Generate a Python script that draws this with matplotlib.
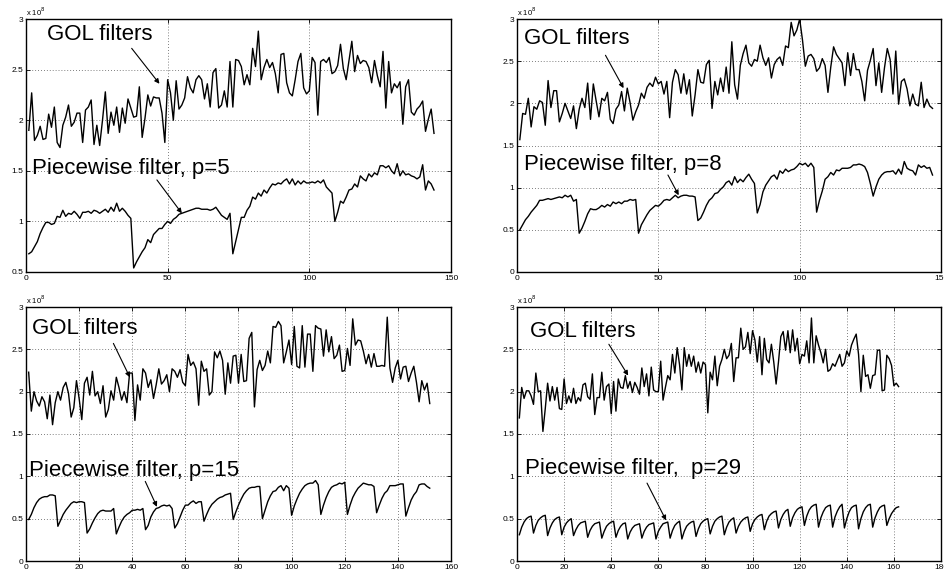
import numpy as np
import matplotlib
matplotlib.use("Agg")
import matplotlib.pyplot as plt

plt.rcParams['font.family'] = ['Liberation Sans', 'DejaVu Sans']

# ---------------- data (units of 1e8) ----------------
gol_1 = [1.90, 2.27, 1.80, 1.85, 1.94, 1.81, 1.82, 2.06, 1.93, 2.13,
         1.78, 1.73, 1.95, 2.03, 2.15, 1.94, 1.98, 2.07, 2.07, 1.78,
         2.10, 2.13, 2.20, 1.76, 1.95, 1.75, 2.00, 2.28, 1.87, 2.08,
         1.95, 2.13, 1.88, 2.12, 1.97, 2.21, 2.12, 2.03, 2.04, 2.33,
         1.83, 2.02, 2.25, 2.14, 2.23, 2.22, 2.22, 2.07, 1.78, 2.40,
         2.27, 2.00, 2.39, 2.11, 2.15, 2.22, 2.43, 2.32, 2.27, 2.40,
         2.44, 2.40, 2.21, 2.36, 2.13, 2.47, 2.51, 2.12, 2.15, 2.29,
         2.13, 2.58, 2.13, 2.60, 2.59, 2.53, 2.35, 2.45, 2.35, 2.71,
         2.53, 2.88, 2.40, 2.52, 2.60, 2.52, 2.57, 2.46, 2.27, 2.65,
         2.66, 2.37, 2.27, 2.24, 2.40, 2.58, 2.66, 2.32, 2.26, 2.29,
         2.62, 2.57, 2.05, 2.58, 2.60, 2.57, 2.62, 2.46, 2.48, 2.54,
         2.75, 2.51, 2.40, 2.59, 2.78, 2.48, 2.64, 2.56, 2.59, 2.58,
         2.52, 2.37, 2.59, 2.44, 2.33, 2.68, 2.12, 2.58, 2.27, 2.36,
         2.32, 2.38, 1.96, 2.33, 2.40, 2.08, 2.05, 2.11, 2.14, 2.19,
         1.89, 2.01, 2.11, 1.87]
pw_1 = [0.68, 0.70, 0.75, 0.80, 0.88, 0.94, 0.99, 0.99, 0.97, 0.98,
        1.05, 1.04, 1.11, 1.05, 1.08, 1.07, 1.10, 1.07, 1.03, 1.09,
        1.09, 1.10, 1.08, 1.11, 1.10, 1.08, 1.10, 1.12, 1.09, 1.14,
        1.10, 1.18, 1.10, 1.13, 1.10, 1.06, 1.03, 0.54, 0.60, 0.65,
        0.70, 0.74, 0.82, 0.79, 0.87, 0.90, 0.93, 0.93, 0.97, 1.00,
        0.98, 1.02, 1.04, 1.07, 1.08, 1.09, 1.10, 1.11, 1.12, 1.13,
        1.13, 1.12, 1.12, 1.12, 1.11, 1.12, 1.14, 1.10, 1.06, 1.04,
        1.02, 1.08, 0.68, 0.80, 0.92, 1.04, 1.04, 1.11, 1.15, 1.24,
        1.22, 1.28, 1.25, 1.31, 1.28, 1.33, 1.37, 1.36, 1.38, 1.37,
        1.40, 1.42, 1.37, 1.42, 1.36, 1.40, 1.37, 1.40, 1.38, 1.38,
        1.39, 1.38, 1.40, 1.38, 1.41, 1.34, 1.31, 1.28, 1.00, 1.09,
        1.20, 1.18, 1.24, 1.31, 1.32, 1.37, 1.34, 1.45, 1.42, 1.40,
        1.47, 1.44, 1.48, 1.46, 1.55, 1.55, 1.53, 1.55, 1.50, 1.47,
        1.57, 1.45, 1.50, 1.46, 1.47, 1.45, 1.44, 1.42, 1.44, 1.56,
        1.31, 1.40, 1.37, 1.31]

gol_2 = [1.57, 1.88, 1.87, 2.06, 1.72, 1.96, 1.93, 2.03, 2.01, 1.74,
         2.27, 1.95, 2.15, 2.15, 1.78, 1.88, 2.00, 1.91, 1.82, 1.97,
         1.70, 1.93, 2.06, 1.95, 2.24, 1.81, 2.23, 2.03, 1.84, 2.06,
         2.03, 2.13, 1.81, 1.76, 1.93, 1.98, 2.14, 1.91, 2.18, 2.01,
         1.80, 1.90, 1.98, 2.12, 2.06, 2.19, 2.24, 2.20, 2.31, 2.23,
         2.26, 2.11, 2.26, 1.83, 2.25, 2.40, 2.34, 2.12, 2.35, 2.11,
         2.28, 1.85, 2.10, 2.40, 2.25, 2.24, 2.46, 2.51, 1.94, 2.26,
         2.10, 2.30, 2.14, 2.43, 2.12, 2.73, 2.22, 2.05, 2.45, 2.59,
         2.69, 2.48, 2.44, 2.52, 2.50, 2.69, 2.54, 2.45, 2.54, 2.30,
         2.46, 2.52, 2.55, 2.45, 2.68, 2.66, 2.96, 2.80, 2.87, 3.00,
         2.75, 2.44, 2.56, 2.58, 2.53, 2.38, 2.42, 2.53, 2.45, 2.13,
         2.43, 2.67, 2.58, 2.53, 2.48, 2.21, 2.60, 2.33, 2.59, 2.40,
         2.40, 2.26, 2.03, 2.39, 2.51, 2.65, 2.21, 2.48, 2.13, 2.42,
         2.65, 2.52, 2.11, 2.62, 1.99, 2.26, 2.29, 2.17, 1.97, 2.11,
         1.99, 1.97, 2.25, 1.95, 2.05, 1.97, 1.94]
pw_2 = [0.50, 0.56, 0.62, 0.66, 0.71, 0.75, 0.79, 0.85, 0.85, 0.86,
        0.87, 0.86, 0.87, 0.88, 0.89, 0.88, 0.91, 0.89, 0.91, 0.84,
        0.86, 0.46, 0.52, 0.60, 0.69, 0.75, 0.74, 0.74, 0.76, 0.79,
        0.77, 0.80, 0.78, 0.83, 0.81, 0.83, 0.81, 0.84, 0.84, 0.86,
        0.85, 0.86, 0.46, 0.56, 0.62, 0.68, 0.73, 0.76, 0.79, 0.78,
        0.81, 0.85, 0.86, 0.85, 0.88, 0.91, 0.88, 0.90, 0.91, 0.91,
        0.90, 0.90, 0.89, 0.61, 0.64, 0.71, 0.79, 0.85, 0.88, 0.93,
        0.94, 0.98, 1.01, 1.06, 1.08, 1.03, 1.13, 1.06, 1.10, 1.07,
        1.12, 1.16, 1.10, 1.05, 0.70, 0.80, 0.95, 1.03, 1.08, 1.13,
        1.15, 1.10, 1.20, 1.17, 1.22, 1.19, 1.21, 1.22, 1.25, 1.29,
        1.27, 1.29, 1.25, 1.29, 1.24, 0.71, 0.85, 0.96, 1.10, 1.13,
        1.18, 1.15, 1.21, 1.20, 1.23, 1.23, 1.23, 1.24, 1.27, 1.27,
        1.28, 1.27, 1.25, 1.18, 1.05, 0.90, 1.01, 1.10, 1.15, 1.18,
        1.19, 1.19, 1.20, 1.16, 1.22, 1.16, 1.31, 1.23, 1.21, 1.20,
        1.15, 1.27, 1.24, 1.26, 1.23, 1.24, 1.15]

gol_3 = [2.23, 1.77, 2.00, 1.89, 1.83, 1.94, 1.88, 1.68, 1.96, 1.61,
         1.87, 2.00, 1.90, 2.05, 2.11, 1.98, 1.70, 1.81, 2.13, 1.92,
         1.67, 2.10, 2.17, 1.96, 2.24, 1.95, 2.00, 1.86, 2.07, 1.70,
         1.79, 2.01, 1.90, 2.17, 2.05, 1.90, 2.00, 1.87, 2.22, 2.22,
         1.66, 2.08, 1.90, 2.27, 2.22, 2.05, 2.14, 1.92, 2.08, 2.27,
         2.09, 2.13, 2.20, 2.00, 2.27, 2.24, 2.17, 2.26, 2.11, 2.07,
         2.44, 2.31, 2.35, 2.27, 1.84, 2.36, 2.24, 2.27, 1.96, 2.00,
         2.47, 2.40, 2.48, 2.37, 1.97, 2.34, 2.10, 2.42, 2.43, 2.10,
         2.44, 2.12, 2.13, 2.63, 2.70, 1.82, 2.26, 2.37, 2.25, 2.31,
         2.48, 2.34, 2.77, 2.76, 2.83, 2.78, 2.34, 2.47, 2.61, 2.32,
         2.77, 2.30, 2.28, 2.78, 2.29, 2.68, 2.68, 2.24, 2.78, 2.75,
         2.74, 2.42, 2.73, 2.47, 2.65, 2.39, 2.43, 2.55, 2.24, 2.25,
         2.51, 2.31, 2.86, 2.55, 2.61, 2.60, 2.48, 2.33, 2.44, 2.29,
         2.45, 2.30, 2.30, 2.31, 2.30, 2.88, 2.28, 2.11, 2.28, 2.37,
         2.15, 2.29, 2.30, 2.12, 2.22, 2.30, 2.11, 1.88, 2.13, 2.02,
         2.10, 1.86]
pw_3 = [0.49, 0.55, 0.63, 0.69, 0.73, 0.75, 0.76, 0.76, 0.78, 0.78, 0.77,
        0.41, 0.48, 0.55, 0.60, 0.64, 0.68, 0.70, 0.69, 0.70, 0.70, 0.69,
        0.33, 0.38, 0.45, 0.51, 0.56, 0.59, 0.60, 0.59, 0.59, 0.59, 0.62,
        0.32, 0.40, 0.47, 0.52, 0.55, 0.57, 0.60, 0.60, 0.61, 0.60, 0.62,
        0.37, 0.42, 0.52, 0.58, 0.62, 0.63, 0.65, 0.66, 0.65, 0.66, 0.62,
        0.39, 0.44, 0.52, 0.60, 0.66, 0.66, 0.69, 0.71, 0.68, 0.70, 0.70,
        0.47, 0.55, 0.62, 0.67, 0.70, 0.73, 0.75, 0.76, 0.78, 0.79, 0.80,
        0.49, 0.58, 0.66, 0.73, 0.79, 0.83, 0.86, 0.87, 0.87, 0.88, 0.88,
        0.50, 0.60, 0.70, 0.77, 0.82, 0.83, 0.87, 0.89, 0.83, 0.89, 0.86,
        0.54, 0.65, 0.73, 0.80, 0.85, 0.89, 0.91, 0.92, 0.92, 0.95, 0.90,
        0.55, 0.66, 0.75, 0.82, 0.87, 0.89, 0.90, 0.92, 0.91, 0.93,
        0.55, 0.66, 0.75, 0.81, 0.86, 0.89, 0.92, 0.91, 0.90, 0.90, 0.88,
        0.57, 0.66, 0.74, 0.80, 0.83, 0.89, 0.89, 0.89, 0.90, 0.91, 0.91,
        0.53, 0.63, 0.72, 0.78, 0.82, 0.90, 0.91, 0.91, 0.88, 0.86]

gol_4 = [1.69, 2.05, 1.92, 2.01, 2.01, 1.95, 1.85, 2.22, 2.00, 2.01,
         1.53, 1.80, 2.10, 1.89, 2.06, 1.90, 2.05, 1.80, 1.79, 2.15,
         1.86, 1.95, 1.87, 2.04, 1.86, 1.93, 1.89, 2.08, 2.10, 1.94,
         1.91, 2.21, 1.73, 1.93, 1.93, 2.23, 1.90, 2.06, 2.09, 1.74,
         2.12, 1.77, 2.15, 2.05, 2.04, 2.19, 2.04, 2.12, 1.99, 2.11,
         2.05, 1.97, 2.28, 2.06, 2.21, 1.95, 2.29, 2.02, 2.00, 2.00,
         2.36, 1.90, 2.05, 2.19, 2.14, 2.44, 2.22, 2.52, 2.32, 2.02,
         2.52, 2.30, 2.44, 2.30, 2.42, 2.23, 2.35, 2.22, 2.35, 2.32,
         1.75, 2.23, 2.14, 2.42, 2.07, 2.30, 2.38, 2.50, 2.39, 2.43,
         2.57, 2.12, 2.40, 2.40, 2.75, 2.50, 2.53, 2.70, 2.45, 2.72,
         2.61, 2.35, 2.65, 2.20, 2.63, 2.38, 2.34, 2.56, 2.35, 2.09,
         2.35, 2.65, 2.71, 2.49, 2.72, 2.46, 2.73, 2.48, 2.63, 2.33,
         2.44, 2.42, 2.60, 2.34, 2.87, 2.34, 2.66, 2.55, 2.46, 2.34,
         2.50, 2.24, 2.26, 2.33, 2.30, 2.37, 2.44, 2.30, 2.34, 2.48,
         2.42, 2.55, 2.62, 2.68, 2.44, 2.00, 2.43, 2.18, 2.20, 2.04,
         2.19, 2.20, 2.49, 2.49, 2.01, 2.02, 2.43, 2.39, 2.31, 2.07,
         2.10, 2.06]
pw_4 = [0.31, 0.40, 0.46, 0.50, 0.52, 0.53,
        0.33, 0.42, 0.48, 0.51, 0.53, 0.54,
        0.30, 0.39, 0.45, 0.49, 0.51, 0.52,
        0.31, 0.40, 0.45, 0.48, 0.50,
        0.30, 0.37, 0.42, 0.45, 0.46, 0.47,
        0.28, 0.36, 0.41, 0.44, 0.45, 0.46,
        0.27, 0.35, 0.41, 0.44, 0.46, 0.47,
        0.28, 0.36, 0.41, 0.44, 0.45,
        0.26, 0.34, 0.39, 0.42, 0.43, 0.44,
        0.27, 0.35, 0.40, 0.43, 0.44, 0.45,
        0.26, 0.35, 0.40, 0.44, 0.45, 0.46,
        0.27, 0.36, 0.42, 0.45, 0.47,
        0.26, 0.35, 0.41, 0.44, 0.46, 0.47,
        0.29, 0.38, 0.44, 0.47, 0.49, 0.50,
        0.32, 0.41, 0.47, 0.50, 0.52, 0.53,
        0.31, 0.40, 0.46, 0.49, 0.51,
        0.33, 0.41, 0.46, 0.49, 0.51, 0.52,
        0.35, 0.44, 0.49, 0.52, 0.54, 0.55,
        0.37, 0.47, 0.53, 0.56, 0.58, 0.59,
        0.39, 0.49, 0.55, 0.59, 0.61,
        0.41, 0.51, 0.57, 0.61, 0.63, 0.64,
        0.42, 0.53, 0.60, 0.64, 0.66, 0.67,
        0.40, 0.51, 0.58, 0.63, 0.65, 0.66,
        0.40, 0.52, 0.59, 0.64, 0.67,
        0.39, 0.50, 0.58, 0.63, 0.65, 0.66,
        0.38, 0.50, 0.58, 0.63, 0.66, 0.67,
        0.40, 0.51, 0.58, 0.63, 0.65, 0.66,
        0.42, 0.50, 0.56, 0.60, 0.63, 0.64]

pw_labels = ["Piecewise filter, p=5", "Piecewise filter, p=8",
             "Piecewise filter, p=15", "Piecewise filter,  p=29"]
gol_label = "GOL filters"

x_limits = [150, 150, 160, 180]
x_steps = [50, 50, 20, 20]
y_bottoms = [0.5, 0, 0, 0]

# annotation geometry (data coords): text pos, arrow tail, arrow head
gol_text = [(7.3, 2.85), (2.4, 2.77), (2.1, 2.75), (5.7, 2.71)]
gol_arrow = [((37.3, 2.71), (47.1, 2.36)), ((31.3, 2.57), (37.7, 2.18)),
             ((32.9, 2.57), (39.1, 2.17)), ((39.0, 2.56), (47.2, 2.19))]
pw_text = [(2.2, 1.52), (2.4, 1.28), (1.2, 1.07), (3.3, 1.09)]
pw_arrow = [((46.2, 1.41), (55.0, 1.08)), ((53.4, 1.15), (57.2, 0.91)),
            ((44.9, 0.94), (49.3, 0.64)), ((55.2, 0.92), (63.3, 0.48))]

gols = [gol_1, gol_2, gol_3, gol_4]
pws = [pw_1, pw_2, pw_3, pw_4]

# ---------------- figure ----------------
fig = plt.figure(figsize=(9.45, 5.74), dpi=100)
W, H = 945.0, 574.0
boxes = [(26, 19, 451, 272), (517, 19, 941, 272),
         (26, 307, 451, 561), (517, 307, 941, 561)]

for i in range(4):
    l, t, r, b = boxes[i]
    ax = fig.add_axes([l / W, 1 - b / H, (r - l) / W, (b - t) / H])
    g = np.array(gols[i])
    p = np.array(pws[i])
    ax.plot(np.arange(1, len(g) + 1), g, color='black', lw=1.0)
    ax.plot(np.arange(1, len(p) + 1), p, color='black', lw=1.0)
    ax.set_xlim(0, x_limits[i])
    ax.set_ylim(y_bottoms[i], 3)
    ax.set_xticks(np.arange(0, x_limits[i] + 1, x_steps[i]))
    ax.set_yticks(np.arange(y_bottoms[i], 3.01, 0.5))
    ax.set_yticklabels([('%g' % v) for v in np.arange(y_bottoms[i], 3.01, 0.5)])
    ax.grid(True, linestyle=(0, (1, 2.5)), color='#555555', lw=0.6)
    ax.tick_params(direction='in', length=3, width=0.6, labelsize=6,
                   top=True, right=True, pad=2)
    for s in ax.spines.values():
        s.set_linewidth(1.0)
    ax.text(0.0, 1.005, r'x 10$^{8}$', transform=ax.transAxes,
            fontsize=5.5, ha='left', va='bottom')

    ax.text(gol_text[i][0], gol_text[i][1], gol_label, fontsize=16,
            ha='left', va='center')
    ax.annotate('', xy=gol_arrow[i][1], xytext=gol_arrow[i][0],
                arrowprops=dict(arrowstyle='-|>', lw=0.8, color='black',
                                mutation_scale=7, shrinkA=0, shrinkB=0))
    ax.text(pw_text[i][0], pw_text[i][1], pw_labels[i], fontsize=16,
            ha='left', va='center')
    ax.annotate('', xy=pw_arrow[i][1], xytext=pw_arrow[i][0],
                arrowprops=dict(arrowstyle='-|>', lw=0.8, color='black',
                                mutation_scale=7, shrinkA=0, shrinkB=0))

fig.savefig('out.png', dpi=100)
